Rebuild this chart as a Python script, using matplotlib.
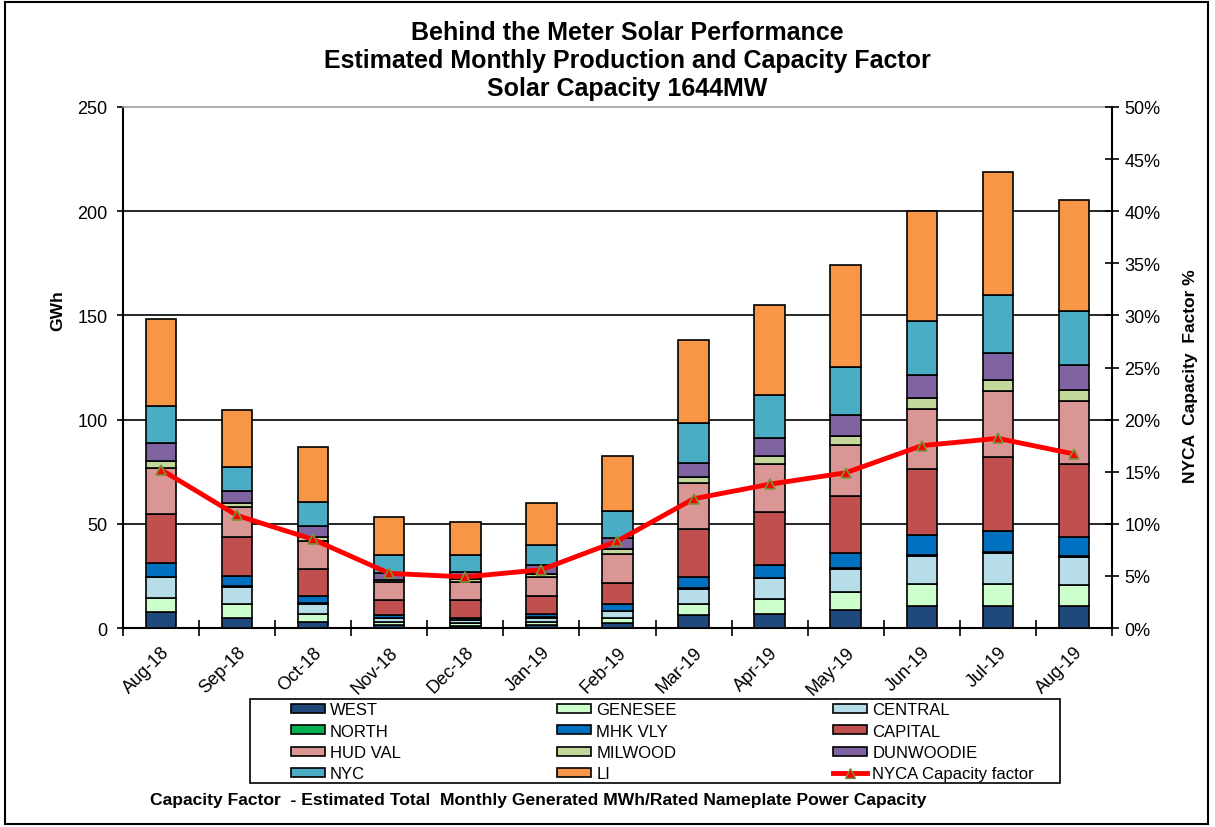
import matplotlib.pyplot as plt
from matplotlib.lines import Line2D
from matplotlib.patches import Patch
import numpy as np

months = ["Aug-18", "Sep-18", "Oct-18", "Nov-18", "Dec-18", "Jan-19", "Feb-19",
          "Mar-19", "Apr-19", "May-19", "Jun-19", "Jul-19", "Aug-19"]

# GWh per zone
west      = [7.5, 4.9, 2.9, 1.3, 1.1, 1.4, 2.2, 6.2, 6.7, 8.6, 10.7, 10.7, 10.7]
genesee   = [7.0, 6.6, 4.0, 1.4, 1.3, 1.5, 2.6, 5.2, 7.2, 8.5, 10.4, 10.4, 9.9]
central   = [9.8, 8.3, 4.6, 1.9, 1.3, 2.1, 3.4, 7.3, 9.9, 11.2, 13.6, 14.9, 13.6]
north     = [0.3, 0.2, 0.5, 0.2, 0.1, 0.2, 0.2, 0.4, 0.3, 0.7, 0.3, 0.3, 0.5]
mhk_vly   = [6.4, 5.1, 3.4, 1.4, 1.2, 1.7, 3.0, 5.2, 6.1, 7.0, 9.6, 10.1, 9.1]
capital   = [23.7, 18.7, 12.9, 7.4, 8.4, 8.6, 10.3, 23.2, 25.3, 27.2, 31.7, 35.7, 35.1]
hud_val   = [22.1, 14.1, 13.4, 8.3, 8.5, 9.1, 13.6, 22.1, 23.2, 24.6, 28.8, 31.5, 30.2]
milwood   = [3.2, 1.9, 2.1, 1.3, 1.6, 1.2, 2.5, 2.7, 4.0, 4.5, 5.3, 5.3, 5.3]
dunwoodie = [8.6, 5.8, 5.3, 3.0, 3.5, 4.3, 5.2, 7.0, 8.5, 9.8, 11.0, 13.1, 11.8]
nyc       = [18.1, 11.8, 11.5, 8.8, 8.0, 9.9, 13.0, 18.9, 20.6, 23.3, 25.9, 27.8, 25.8]
li        = [41.6, 27.4, 26.1, 18.1, 16.0, 20.0, 26.5, 40.2, 43.2, 48.8, 52.8, 59.0, 53.4]

# NYCA capacity factor, %
cap_factor = [15.2, 10.8, 8.5, 5.25, 4.9, 5.6, 8.35, 12.4, 13.8, 14.9, 17.5, 18.2, 16.7]

zones = [
    ("WEST", west, "#1F497D"),
    ("GENESEE", genesee, "#CCFFCC"),
    ("CENTRAL", central, "#B7DEE8"),
    ("NORTH", north, "#00B050"),
    ("MHK VLY", mhk_vly, "#0070C0"),
    ("CAPITAL", capital, "#C0504D"),
    ("HUD VAL", hud_val, "#DA9694"),
    ("MILWOOD", milwood, "#C4D79B"),
    ("DUNWOODIE", dunwoodie, "#8064A2"),
    ("NYC", nyc, "#4BACC6"),
    ("LI", li, "#F79646"),
]

plt.rcParams['font.family'] = ['Liberation Sans', 'DejaVu Sans']

fig = plt.figure(figsize=(12.15, 8.28), dpi=100)
ax = fig.add_axes([0.1012, 0.2403, 0.814, 0.6293])

x = np.arange(len(months))
bottom = np.zeros(len(months))
handles = {}
for name, vals, color in zones:
    vals = np.array(vals)
    ax.bar(x, vals, width=0.4, bottom=bottom, color=color,
           edgecolor="black", linewidth=1.2, zorder=3)
    bottom += vals
    handles[name] = Patch(facecolor=color, edgecolor="black", linewidth=1.2)

ax.set_xlim(-0.5, len(months) - 0.5)
ax.set_ylim(0, 250)
ax.set_yticks(np.arange(0, 251, 50))
ax.tick_params(axis="y", labelsize=13, direction="out", length=4, width=1.2, pad=7)
for yv in [50, 100, 150, 200]:
    ax.axhline(yv, color="black", linewidth=1.2, zorder=1)

ax.set_xticks(x)
ax.set_xticklabels(months, rotation=45, ha="right", rotation_mode="anchor", fontsize=13)
ax.tick_params(axis="x", length=0, pad=11)
ax.set_xticks(np.arange(-0.5, len(months), 1), minor=True)
ax.tick_params(axis="x", which="minor", direction="inout", length=12, width=1.2)

for s in ["left", "bottom"]:
    ax.spines[s].set_linewidth(1.5)
ax.spines["top"].set_color("#A0A0A0")
ax.spines["top"].set_linewidth(1.2)
ax.spines["right"].set_visible(False)
ax.set_ylabel("GWh", fontsize=12.5, fontweight="bold")
ax.yaxis.set_label_coords(-0.0586, 0.612)

ax2 = ax.twinx()
ax2.set_ylim(0, 50)
ax2.set_yticks(np.arange(0, 51, 5))
ax2.set_yticklabels([f"{v}%" for v in range(0, 51, 5)])
ax2.tick_params(axis="y", labelsize=13, direction="inout", length=10, width=1.2, pad=4)
ax2.spines["right"].set_linewidth(1.5)
for s in ["top", "left", "bottom"]:
    ax2.spines[s].set_visible(False)
ax2.set_ylabel("NYCA  Capacity  Factor %", fontsize=12.5, fontweight="bold")
ax2.yaxis.set_label_coords(1.0718, 0.486)
ax2.plot(x, cap_factor, color="#FF0000", linewidth=3.5, marker="^", markersize=7,
         markerfacecolor="#FF0000", markeredgecolor="#77933C", markeredgewidth=1.2, zorder=5)

for txt, yy in [("Behind the Meter Solar Performance", 1 - 33 / 828),
                ("Estimated Monthly Production and Capacity Factor", 1 - 61 / 828),
                ("Solar Capacity 1644MW", 1 - 89 / 828)]:
    fig.text(0.516, yy, txt, ha="center", va="center", fontsize=18, fontweight="bold")

line_handle = Line2D([], [], color="#FF0000", linewidth=3.5, marker="^", markersize=7,
                     markerfacecolor="#FF0000", markeredgecolor="#77933C")
handles["NYCA Capacity factor"] = line_handle
order = ["WEST", "NORTH", "HUD VAL", "NYC",
         "GENESEE", "MHK VLY", "MILWOOD", "LI",
         "CENTRAL", "CAPITAL", "DUNWOODIE", "NYCA Capacity factor"]
leg = fig.legend([handles[k] for k in order], order, ncol=3,
                 loc="upper left", bbox_to_anchor=(290.7 / 1215, 1 - 703.5 / 828),
                 bbox_transform=fig.transFigure,
                 fontsize=12, frameon=False,
                 handlelength=2.04, handleheight=0.46, handletextpad=0.3,
                 columnspacing=9.4, labelspacing=0.38, borderpad=0, borderaxespad=0)

# legend box
fig.patches.append(plt.Rectangle((250 / 1215, 1 - 784 / 828), 810 / 1215, 84 / 828,
                                 transform=fig.transFigure, fill=False,
                                 edgecolor="black", linewidth=1.2))

fig.text(150 / 1215, 1 - 801 / 828,
         "Capacity Factor  - Estimated Total  Monthly Generated MWh/Rated Nameplate Power Capacity",
         ha="left", va="center", fontsize=12.6, fontweight="bold")

# outer frame around the whole chart
fig.patches.append(plt.Rectangle((0.004, 0.004), 0.99, 0.992, transform=fig.transFigure,
                                 fill=False, edgecolor="black", linewidth=1.5))

fig.savefig("out.png", dpi=100)
